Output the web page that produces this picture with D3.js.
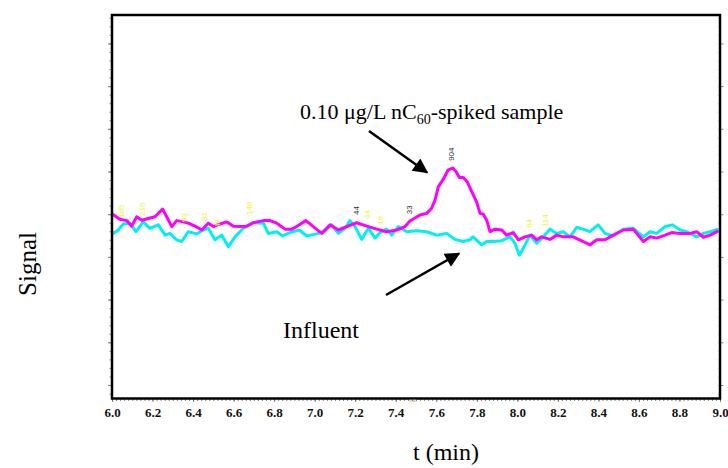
<!DOCTYPE html>
<html>
<head>
<meta charset="utf-8">
<script src="https://cdn.jsdelivr.net/npm/d3@7/dist/d3.min.js"></script>
<style>
  html, body { margin: 0; padding: 0; background: #fff; }
  svg { display: block; }
</style>
</head>
<body>
<svg id="chart" width="728" height="468"></svg>
<script>
// ---- data (time in minutes, signal in arbitrary units = major-tick steps) ----
const tSpiked = [6.003,6.039,6.073,6.097,6.122,6.147,6.179,6.212,6.250,6.270,6.295,6.319,6.352,6.376,6.410,6.443,6.475,6.500,6.533,6.566,6.599,6.632,6.665,6.697,6.747,6.780,6.813,6.854,6.887,6.911,6.957,6.993,7.035,7.076,7.117,7.158,7.207,7.257,7.306,7.355,7.405,7.446,7.470,7.520,7.553,7.577,7.594,7.610,7.635,7.659,7.681,7.697,7.714,7.733,7.753,7.775,7.799,7.816,7.832,7.849,7.865,7.890,7.923,7.947,7.980,8.005,8.038,8.071,8.096,8.120,8.161,8.194,8.227,8.276,8.325,8.358,8.392,8.433,8.473,8.523,8.572,8.622,8.655,8.688,8.729,8.762,8.803,8.852,8.885,8.918,8.951,8.992];
const sSpiked = [4.00,3.88,3.85,3.72,3.94,3.86,3.90,3.94,4.12,3.94,3.71,3.85,3.82,3.79,3.72,3.63,3.79,3.71,3.77,3.82,3.72,3.71,3.72,3.80,3.85,3.85,3.79,3.65,3.65,3.71,3.85,3.71,3.55,3.75,3.63,3.71,3.80,3.72,3.65,3.59,3.63,3.71,3.84,3.98,4.02,4.14,4.33,4.64,4.82,5.04,5.08,5.00,4.86,4.86,4.76,4.53,4.29,4.02,4.00,3.86,3.59,3.65,3.63,3.51,3.57,3.40,3.47,3.51,3.40,3.47,3.41,3.51,3.47,3.47,3.36,3.28,3.40,3.40,3.51,3.63,3.65,3.36,3.47,3.44,3.51,3.57,3.55,3.55,3.59,3.46,3.51,3.61];

const tInfluent = [6.003,6.031,6.056,6.089,6.118,6.154,6.187,6.228,6.262,6.286,6.319,6.344,6.376,6.418,6.450,6.475,6.508,6.541,6.574,6.607,6.648,6.697,6.747,6.771,6.813,6.842,6.878,6.924,6.961,7.010,7.051,7.084,7.117,7.150,7.174,7.199,7.232,7.265,7.298,7.322,7.355,7.380,7.413,7.454,7.503,7.553,7.602,7.651,7.692,7.733,7.766,7.782,7.824,7.849,7.881,7.923,7.964,7.988,8.010,8.038,8.062,8.096,8.128,8.161,8.194,8.227,8.260,8.293,8.325,8.358,8.399,8.433,8.473,8.523,8.572,8.622,8.655,8.688,8.729,8.766,8.803,8.836,8.885,8.918,8.951,8.992];
const sInfluent = [3.54,3.63,3.77,3.79,3.59,3.82,3.67,3.75,3.51,3.55,3.40,3.36,3.59,3.54,3.63,3.67,3.40,3.51,3.24,3.47,3.67,3.80,3.79,3.55,3.59,3.49,3.57,3.63,3.49,3.54,3.61,3.75,3.55,3.67,3.85,3.71,3.41,3.67,3.44,3.57,3.65,3.51,3.71,3.59,3.61,3.59,3.51,3.55,3.41,3.36,3.40,3.47,3.28,3.36,3.36,3.38,3.47,3.32,3.04,3.28,3.51,3.32,3.47,3.65,3.55,3.59,3.47,3.69,3.65,3.59,3.75,3.55,3.49,3.65,3.67,3.47,3.59,3.55,3.71,3.75,3.63,3.59,3.47,3.55,3.59,3.65];

// small peak annotations left by the instrument software
const peakT     = [6.048, 6.150, 6.360, 6.454, 6.521, 6.678, 7.206, 7.261, 7.325, 7.468, 7.673, 8.058, 8.139];
const peakS     = [3.91, 3.96, 3.82, 3.84, 3.68, 3.98, 3.98, 3.89, 3.75, 4.00, 5.25, 3.68, 3.70];
const peakText  = ["185","216","93","81","48","148","44","44","18","33","904","64","114"];
const peakDark  = [false,false,false,false,false,false,true,false,false,true,true,false,false];

const xTickLabels = ["6.0","6.2","6.4","6.6","6.8","7.0","7.2","7.4","7.6","7.8","8.0","8.2","8.4","8.6","8.8","9.0"];
const xMajor = xTickLabels.map(Number);
const xMinor = d3.range(0, 151).map(i => 6 + i * 0.02);
const yMajor = d3.range(0, 9);
const yMinor = d3.range(-1, 44).map(i => i * 0.2);

const titleSpiked = ["0.10 μg/L nC", "60", "-spiked sample"];
const titleInfluent = "Influent";
const yTitle = "Signal";
const xTitle = "t (min)";

// ---- layout ----
const svg = d3.select("#chart");
const L = 112, R = 720, T = 15, B = 398.5;
const x = d3.scaleLinear().domain([6, 9]).range([L, R]);
const y = d3.scaleLinear().domain([-0.316, 8.665]).range([B, T]);

const serif = "'Liberation Serif', 'Times New Roman', serif";
const sans = "'Liberation Sans', Arial, sans-serif";

// ticks
const gxMinor = svg.append("g").attr("transform", `translate(0,${B})`)
  .call(d3.axisBottom(x).tickValues(xMinor).tickSize(2.5).tickFormat(""));
const gxMajor = svg.append("g").attr("transform", `translate(0,${B})`)
  .call(d3.axisBottom(x).tickValues(xMajor).tickSize(3.5).tickFormat((d, i) => xTickLabels[i]));
[gxMinor, gxMajor].forEach(g => { g.select(".domain").remove(); g.selectAll("line").attr("stroke", "#666").attr("stroke-width", 0.8); });
gxMajor.selectAll("text")
  .attr("y", 18.5).attr("dy", 0)
  .attr("font-family", serif).attr("font-weight", "bold").attr("font-size", 13).attr("fill", "#111");

const gyMinor = svg.append("g").attr("transform", `translate(${L},0)`)
  .call(d3.axisLeft(y).tickValues(yMinor.filter(v => y(v) > T + 1 && y(v) < B - 1)).tickSize(2.5).tickFormat(""));
const gyMajor = svg.append("g").attr("transform", `translate(${L},0)`)
  .call(d3.axisLeft(y).tickValues(yMajor).tickSize(4).tickFormat(""));
const gyRight = svg.append("g").attr("transform", `translate(${R},0)`)
  .call(d3.axisRight(y).tickValues(yMajor).tickSize(3.5).tickFormat(""));
const gyRightMinor = svg.append("g").attr("transform", `translate(${R},0)`)
  .call(d3.axisLeft(y).tickValues(yMinor.filter(v => y(v) > T + 1 && y(v) < B - 1)).tickSize(1.5).tickFormat(""));
[gyMinor, gyMajor, gyRight, gyRightMinor].forEach(g => { g.select(".domain").remove(); g.selectAll("line").attr("stroke", "#666").attr("stroke-width", 0.8); });

// series
const line = d3.line().x(d => x(d[0])).y(d => y(d[1]));
svg.append("path").datum(d3.zip(tInfluent, sInfluent))
  .attr("d", line).attr("fill", "none").attr("stroke", "#00f0f0")
  .attr("stroke-width", 3).attr("stroke-linejoin", "round");
svg.append("path").datum(d3.zip(tSpiked, sSpiked))
  .attr("d", line).attr("fill", "none").attr("stroke", "#ff00ff")
  .attr("stroke-width", 3).attr("stroke-linejoin", "round");

// peak annotations
peakT.forEach((t, i) => {
  svg.append("text")
    .attr("transform", `translate(${x(t) + 2.5},${y(peakS[i])}) rotate(-90)`)
    .attr("font-family", sans).attr("font-size", 8)
    .attr("fill", peakDark[i] ? "#333" : "#f2f230")
    .text(peakText[i]);
});

// frame
svg.append("rect").attr("x", L).attr("y", T).attr("width", R - L).attr("height", B - T)
  .attr("fill", "none").attr("stroke", "#000").attr("stroke-width", 2.5);

// tiny axis unit text
svg.append("text").attr("x", 413).attr("y", 401.5).attr("text-anchor", "middle")
  .attr("font-family", sans).attr("font-size", 4.5).attr("fill", "#888").text("min");

// axis titles
svg.append("text").attr("x", 446).attr("y", 460).attr("text-anchor", "middle")
  .attr("font-family", serif).attr("font-size", 24).attr("fill", "#000").text(xTitle);
svg.append("text").attr("transform", "translate(36,264) rotate(-90)").attr("text-anchor", "middle")
  .attr("font-family", serif).attr("font-size", 25).attr("fill", "#000").text(yTitle);

// annotations
const tt = svg.append("text").attr("x", 300).attr("y", 119)
  .attr("font-family", serif).attr("font-size", 22).attr("fill", "#000");
tt.append("tspan").text(titleSpiked[0]);
tt.append("tspan").attr("font-size", 14).attr("dy", 5).text(titleSpiked[1]);
tt.append("tspan").attr("dy", -5).text(titleSpiked[2]);

svg.append("text").attr("x", 283).attr("y", 338)
  .attr("font-family", serif).attr("font-size", 24).attr("fill", "#000").text(titleInfluent);

svg.append("defs").append("marker").attr("id", "ah")
  .attr("viewBox", "0 0 10 10").attr("refX", 9).attr("refY", 5)
  .attr("markerWidth", 7).attr("markerHeight", 6).attr("markerUnits", "strokeWidth")
  .attr("orient", "auto")
  .append("path").attr("d", "M0,0 L10,5 L0,10 Z").attr("fill", "#000");

svg.append("line").attr("x1", 369).attr("y1", 131).attr("x2", 427).attr("y2", 172.5)
  .attr("stroke", "#000").attr("stroke-width", 2.5).attr("marker-end", "url(#ah)");
svg.append("line").attr("x1", 386).attr("y1", 295).attr("x2", 459).attr("y2", 253.5)
  .attr("stroke", "#000").attr("stroke-width", 2.5).attr("marker-end", "url(#ah)");
</script>
</body>
</html>
